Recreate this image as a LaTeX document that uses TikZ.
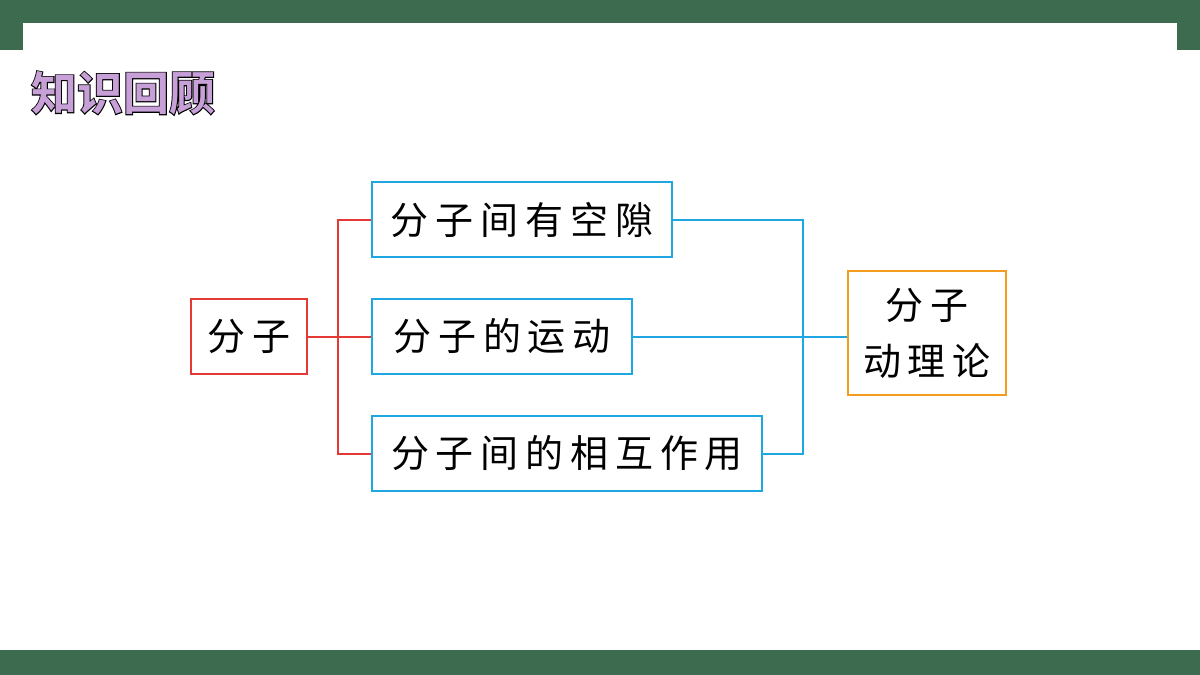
\documentclass[tikz,border=0pt]{standalone}
\usepackage{fontspec}
\newfontfamily\cjk[LetterSpace=18]{Noto Sans CJK SC}
\newfontfamily\cjkt{Noto Sans CJK SC Bold}
\newfontfamily\cjkto[FakeBold=4]{Noto Sans CJK SC Bold}
\definecolor{frame}{HTML}{3D6B4F}
\definecolor{bred}{HTML}{E53935}
\definecolor{bblue}{HTML}{1EA7E1}
\definecolor{borange}{HTML}{F39C1E}
\definecolor{tpink}{HTML}{C8A0D8}
\begin{document}
\begin{tikzpicture}[x=0.5pt,y=-0.5pt,
  box/.style={draw,line width=1.2pt,inner sep=0pt,font=\cjk\fontsize{19pt}{22pt}\selectfont},
  rl/.style={bred,line width=1pt},
  bl/.style={bblue,line width=1pt}]
\useasboundingbox (0,0) rectangle (1200,675);
\fill[white] (0,0) rectangle (1200,675);
\fill[frame] (0,0) rectangle (1200,23);
\fill[frame] (0,0) rectangle (23,50);
\fill[frame] (1177,0) rectangle (1200,50);
\fill[frame] (0,650) rectangle (1200,675);
% title
\node[anchor=west,text=black,font=\cjkto\fontsize{23pt}{26pt}\selectfont] at (24,93) {知识回顾};
\node[anchor=west,text=tpink,font=\cjkt\fontsize{23pt}{26pt}\selectfont] at (24,93) {知识回顾};
% boxes
\node[box,bred,text=black,minimum width=58pt,minimum height=37.5pt] (fz) at (249,336.5) {分子};
\node[box,bblue,text=black,minimum width=150pt,minimum height=37.5pt] (a) at (522,219.5) {分子间有空隙};
\node[box,bblue,text=black,minimum width=130pt,minimum height=37.5pt] (b) at (502,336.5) {分子的运动};
\node[box,bblue,text=black,minimum width=195pt,minimum height=37.5pt] (c) at (567,453.5) {分子间的相互作用};
\node[box,borange,text=black,minimum width=79pt,minimum height=62pt,align=center,font=\cjk\fontsize{19pt}{28pt}\selectfont] (d) at (927,333) {分子\\动理论};
% connectors
\coordinate (rj) at (338,336.5);
\draw[rl] (fz.east) -- (rj);
\draw[rl] (a.west) -| (rj) |- (c.west);
\draw[rl] (rj) -- (b.west);
\coordinate (bj) at (803,336.5);
\draw[bl] (a.east) -| (bj) |- (c.east);
\draw[bl] (b.east) -- (d.west |- b.east);
\end{tikzpicture}
\end{document}
